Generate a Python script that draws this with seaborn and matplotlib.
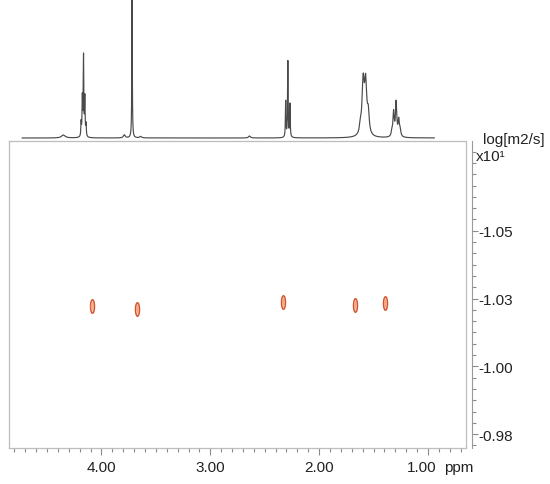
import numpy as np
import pandas as pd
import seaborn as sns
import matplotlib
matplotlib.use("Agg")
import matplotlib.pyplot as plt
from matplotlib.path import Path
from matplotlib.ticker import MultipleLocator, FixedLocator
from matplotlib.transforms import ScaledTranslation

# DOSY cross peaks (chemical shift, log D x10^1)
spot_ppm = [4.09, 3.67, 2.33, 1.67, 1.39]
spot_logd = [-1.0246, -1.0238, -1.0264, -1.0253, -1.0257]

# 1H projection: peak list (ppm, height, half width)
peak_ppm = [4.35, 4.187, 4.176, 4.165, 4.153, 4.142, 3.79, 3.719, 3.64, 2.64,
            2.307, 2.287, 2.268, 1.62, 1.595, 1.572, 1.548,
            1.33, 1.315, 1.292, 1.268, 1.255]
peak_height = [3, 14, 38, 80, 38, 12, 3, 150, 1.5, 2,
               36, 76, 33, 8, 52, 50, 20,
               5, 24, 34, 16, 6]
peak_width = [0.02, 0.003, 0.003, 0.003, 0.003, 0.003, 0.01, 0.0025, 0.01, 0.01,
              0.003, 0.003, 0.003, 0.01, 0.012, 0.012, 0.01,
              0.007, 0.007, 0.007, 0.007, 0.007]

x_ticks = [4.0, 3.0, 2.0, 1.0]
x_labels = ["4.00", "3.00", "2.00", "1.00"]
y_ticks = [-1.0525, -1.0275, -1.0025, -0.9775]
y_labels = ["-1.05", "-1.03", "-1.00", "-0.98"]

sns.set_theme(style="white")
plt.rcParams["font.family"] = ["Liberation Sans", "DejaVu Sans"]
FS = 11
TXT = "#222222"

W, H = 550, 485
fig = plt.figure(figsize=(5.5, 4.85), dpi=100)
L, R, T, B = 9, 466, 142, 449
ax = fig.add_axes([L / W, 1 - B / H, (R - L) / W, (B - T) / H])
ax_top = fig.add_axes([L / W, 1 - 141 / H, (R - L) / W, 141 / H])

# projection spectrum
ppm = np.linspace(4.73, 0.94, 9000)
inten = np.zeros_like(ppm)
for p, h, w in zip(peak_ppm, peak_height, peak_width):
    inten += h / (1 + ((ppm - p) / w) ** 2)
spec = pd.DataFrame({"ppm": ppm, "I": inten})
sns.lineplot(data=spec, x="ppm", y="I", ax=ax_top, color="#4a4a4a",
             lw=0.85, estimator=None)
ax_top.set_xlim(4.85, 0.65)
ax_top.set_ylim(-2, 139)
ax_top.axis("off")

# cross peaks as small ellipses
t = np.linspace(0, 2 * np.pi, 60)
ell = Path(np.column_stack([0.3 * np.cos(t), np.sin(t)]), closed=True)
spots = pd.DataFrame({"ppm": spot_ppm, "logd": spot_logd})
sns.scatterplot(data=spots, x="ppm", y="logd", ax=ax, marker=ell, s=95,
                facecolor="#f7c6aa", edgecolor="#d4512e", linewidth=1.0, zorder=3)
sns.scatterplot(data=spots, x="ppm", y="logd", ax=ax, marker=ell, s=28,
                facecolor="#f3a67f", edgecolor="none", linewidth=0, zorder=4)

ax.set_xlim(4.85, 0.65)
ax.set_ylim(-0.9724, -1.0856)
ax.set_xlabel("")
ax.set_ylabel("")

ax.xaxis.set_major_locator(FixedLocator(x_ticks))
ax.set_xticklabels(x_labels)
ax.xaxis.set_minor_locator(MultipleLocator(0.1))
ax.yaxis.tick_right()
ax.set_yticks(y_ticks)
ax.set_yticklabels(y_labels)
step = 0.025 / 6
ax.yaxis.set_minor_locator(FixedLocator(np.arange(-1.0856, -0.9724, step) +
                                        ((-1.0525 + 1.0856) % step)))

ax.tick_params(axis="x", which="major", direction="out", length=5, width=0.8,
               color="#8a8a8a", labelsize=FS, labelcolor=TXT, pad=4,
               bottom=True)
ax.tick_params(axis="x", which="minor", direction="out", length=3, width=0.8,
               color="#8a8a8a", bottom=True)
ax.tick_params(axis="y", which="major", direction="out", length=4, width=0.8,
               color="#8a8a8a", labelsize=FS, labelcolor=TXT, pad=1,
               right=True, left=False)
ax.tick_params(axis="y", which="minor", direction="out", length=3, width=0.8,
               color="#8a8a8a", right=True, left=False)

# nudge the last x label so "ppm" fits after it
last = ax.get_xticklabels()[-1]
last.set_transform(last.get_transform() +
                   ScaledTranslation(-6 / 100, 0, fig.dpi_scale_trans))

for s in ["left", "top", "bottom"]:
    ax.spines[s].set_color("#bdbdbd")
    ax.spines[s].set_linewidth(0.9)
ax.spines["right"].set_position(("outward", 4))
ax.spines["right"].set_color("#9a9a9a")
ax.spines["right"].set_linewidth(0.8)
ax.plot([1, 1], [0, 1], transform=ax.transAxes, color="#bdbdbd", lw=0.9,
        clip_on=False)

ax.annotate("ppm", xy=(0.855, 0), xycoords=("data", "axes fraction"),
            xytext=(0, -9), textcoords="offset points", ha="left", va="top",
            fontsize=FS, color=TXT)
fig.text(483 / W, 1 - 140 / H, "log[m2/s]", ha="left", va="center",
         fontsize=FS, color=TXT)
fig.text(476 / W, 1 - 157 / H, "x10¹", ha="left", va="center",
         fontsize=FS, color=TXT)

fig.savefig("out.png", dpi=100, facecolor="white")
